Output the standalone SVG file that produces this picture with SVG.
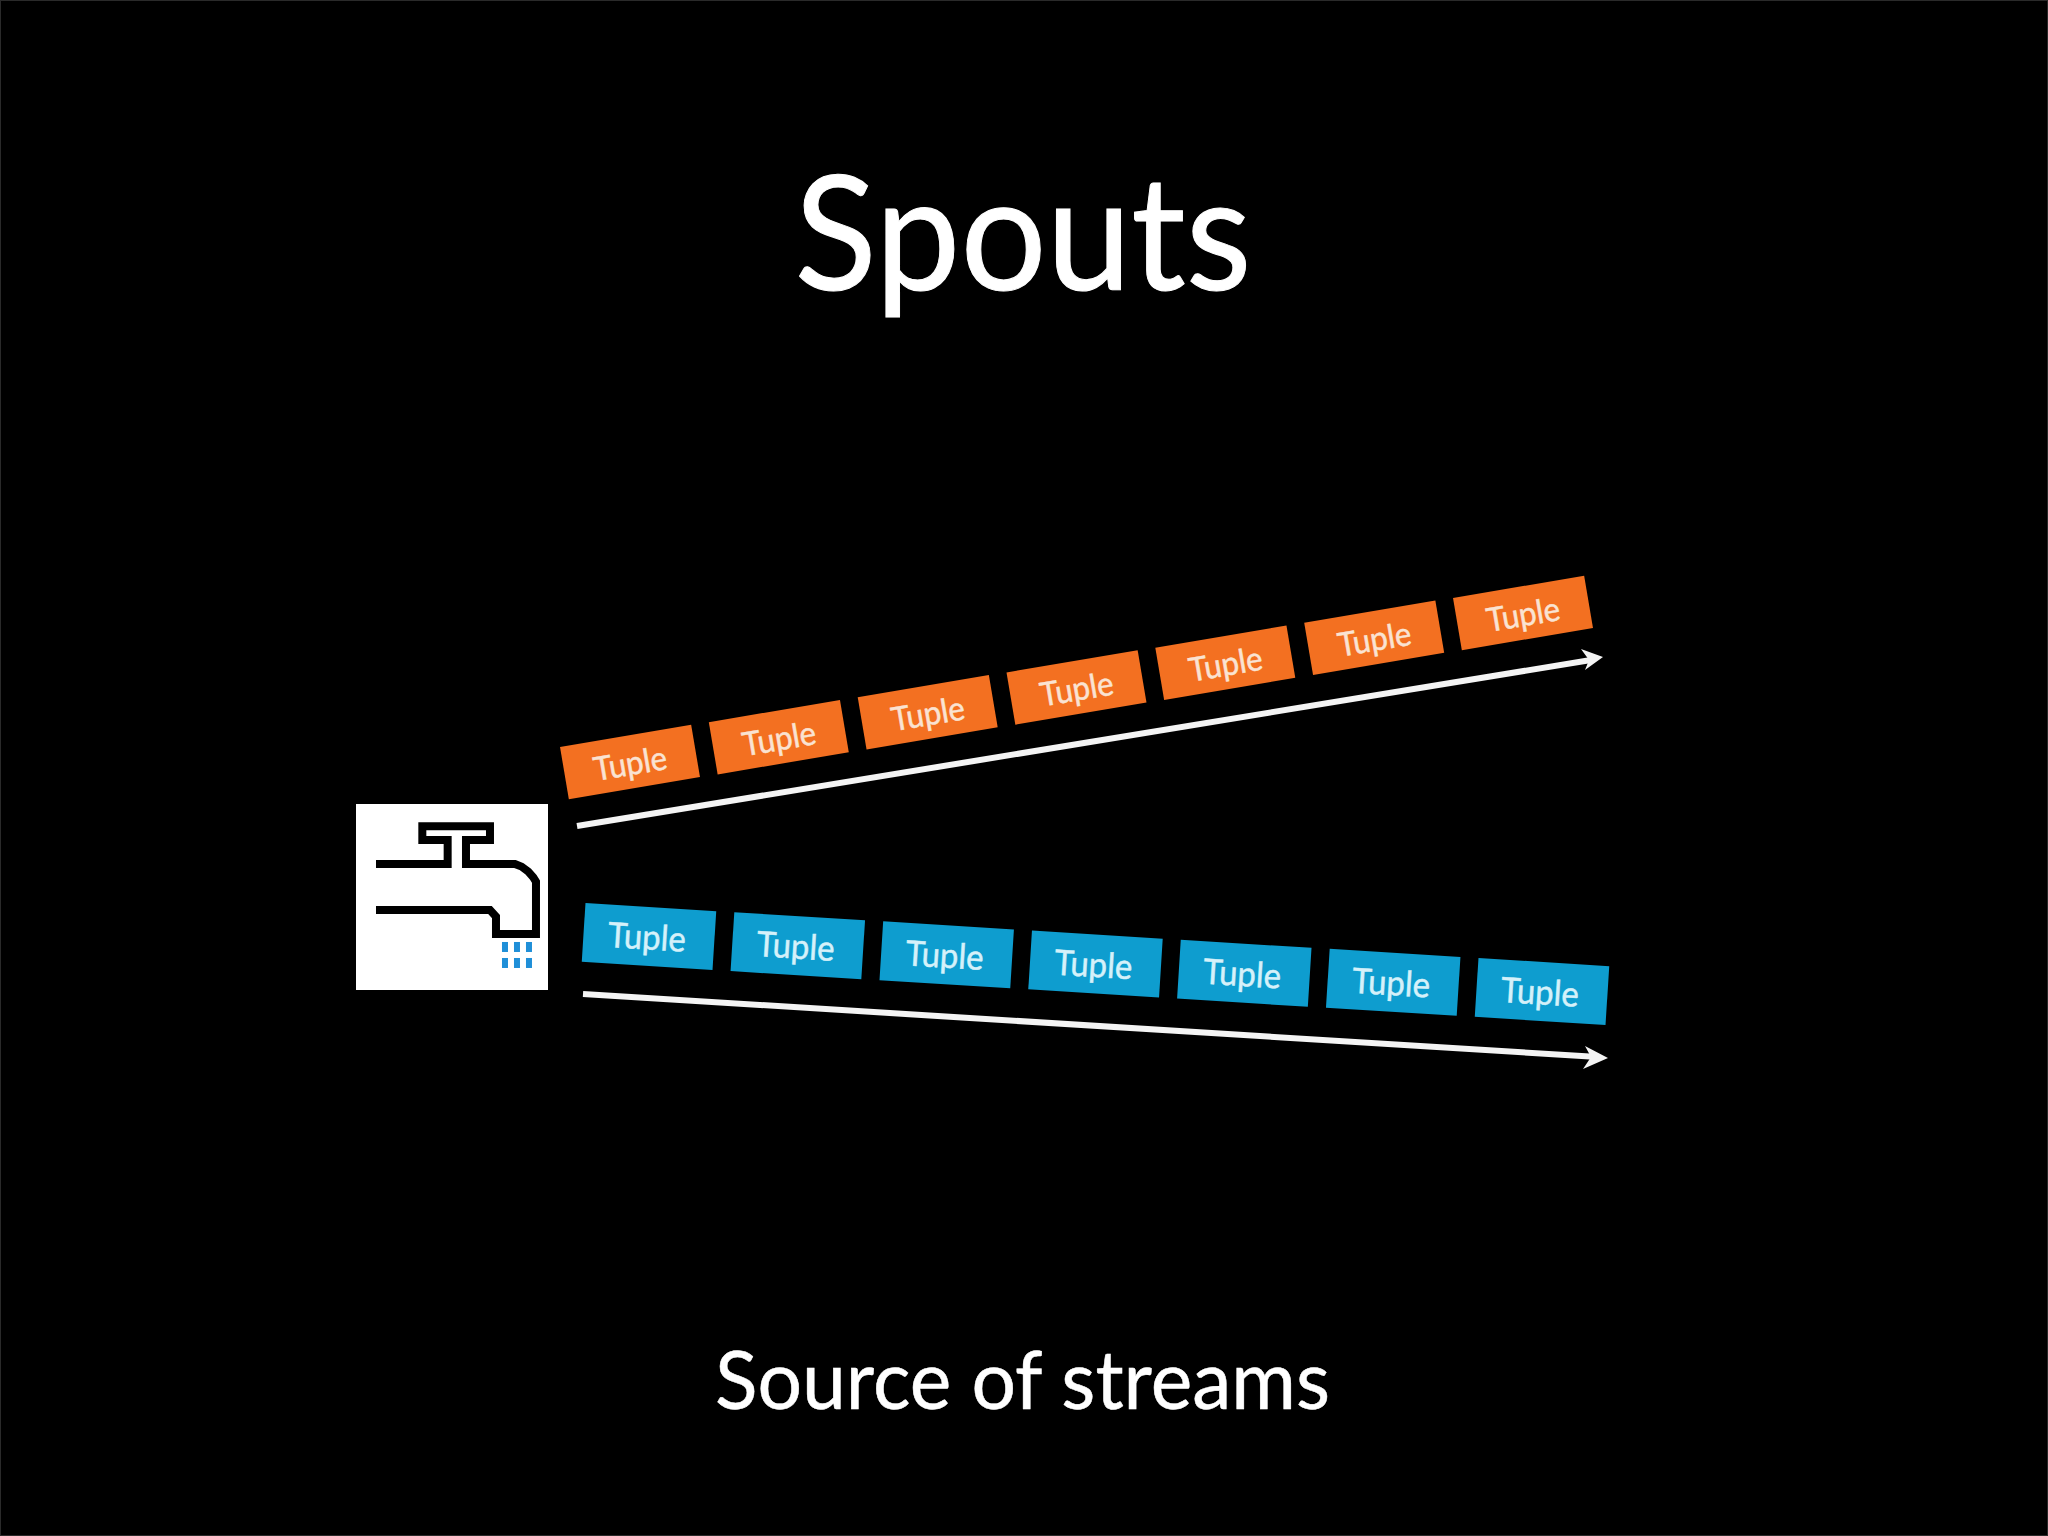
<svg xmlns="http://www.w3.org/2000/svg" width="2048" height="1536" viewBox="0 0 2048 1536">
<style>
text{font-family:"Lato","Open Sans",sans-serif;text-anchor:middle}
.title{fill:#fff}
.o rect{fill:#f37021}
.b rect{fill:#0e9dcf}
.o text{fill:#fae3d2;font-size:33px;stroke:#fae3d2;stroke-width:.5}
.b text{fill:#d5f1fa;font-size:35px;stroke:#d5f1fa;stroke-width:.5}
.ar{fill:none;stroke:#f4f4f4;stroke-width:6}
.hd{fill:#f4f4f4}
.drop{fill:#1f8fd8}
</style>
<rect width="2048" height="1536" fill="#000"/>
<rect x="0.5" y="0.5" width="2047" height="1535" fill="none" stroke="#2a2a2a"/>
<text class="title" x="1023" y="290" font-size="160" stroke="#fff" stroke-width="1" textLength="457" lengthAdjust="spacingAndGlyphs">Spouts</text>
<text class="title" x="1022.500" y="1409" font-size="82" stroke="#fff" stroke-width=".5" textLength="615" lengthAdjust="spacingAndGlyphs">Source of streams</text>
<g id="tap">
<rect x="356" y="804" width="192" height="186" fill="#fff"/>
<g transform="translate(340 780) scale(.3333)">
<path fill="none" stroke="#000" stroke-width="24" stroke-linejoin="miter" d="M108 252H323V180H247V139H450V180H378V252H525L545 260L565 275L580 292L588 305V462H468V410L450 390H108"/>
<g class="drop">
<rect x="486" y="486" width="18" height="30"/><rect x="522" y="486" width="18" height="30"/><rect x="558" y="486" width="18" height="30"/>
<rect x="486" y="534" width="18" height="30"/><rect x="522" y="534" width="18" height="30"/><rect x="558" y="534" width="18" height="30"/>
</g>
</g>
</g>
<g id="connectors">
<path class="ar" d="M577 826L1594 659.500"/>
<path class="hd" d="M1603 657L1581 649L1589 660L1585 670Z"/>
<path class="ar" d="M583 994L1598 1057"/>
<path class="hd" d="M1608 1058L1585 1046L1591 1057L1583 1069Z"/>
</g>
<g id="orange-tuples" class="o">
<g id="o1" transform="translate(630 762) rotate(-9.6)"><rect x="-66.500" y="-26.500" width="133" height="53"/><text y="13" textLength="74" lengthAdjust="spacingAndGlyphs">Tuple</text></g>
<g id="o2" transform="translate(778.800 737.200) rotate(-9.6)"><rect x="-66.500" y="-26.500" width="133" height="53"/><text y="13" textLength="74" lengthAdjust="spacingAndGlyphs">Tuple</text></g>
<g id="o3" transform="translate(927.700 712.300) rotate(-9.6)"><rect x="-66.500" y="-26.500" width="133" height="53"/><text y="13" textLength="74" lengthAdjust="spacingAndGlyphs">Tuple</text></g>
<g id="o4" transform="translate(1076.500 687.500) rotate(-9.6)"><rect x="-66.500" y="-26.500" width="133" height="53"/><text y="13" textLength="74" lengthAdjust="spacingAndGlyphs">Tuple</text></g>
<g id="o5" transform="translate(1225.300 662.700) rotate(-9.6)"><rect x="-66.500" y="-26.500" width="133" height="53"/><text y="13" textLength="74" lengthAdjust="spacingAndGlyphs">Tuple</text></g>
<g id="o6" transform="translate(1374.200 637.800) rotate(-9.6)"><rect x="-66.500" y="-26.500" width="133" height="53"/><text y="13" textLength="74" lengthAdjust="spacingAndGlyphs">Tuple</text></g>
<g id="o7" transform="translate(1523 613) rotate(-9.6)"><rect x="-66.500" y="-26.500" width="133" height="53"/><text y="13" textLength="74" lengthAdjust="spacingAndGlyphs">Tuple</text></g>
</g>
<g id="blue-tuples" class="b">
<g id="b1" transform="translate(649 936.500) rotate(3.6)"><rect x="-65.500" y="-29.500" width="131" height="59"/><text y="13" x="-2" textLength="78" lengthAdjust="spacingAndGlyphs">Tuple</text></g>
<g id="b2" transform="translate(797.800 945.700) rotate(3.6)"><rect x="-65.500" y="-29.500" width="131" height="59"/><text y="13" x="-2" textLength="78" lengthAdjust="spacingAndGlyphs">Tuple</text></g>
<g id="b3" transform="translate(946.700 954.800) rotate(3.6)"><rect x="-65.500" y="-29.500" width="131" height="59"/><text y="13" x="-2" textLength="78" lengthAdjust="spacingAndGlyphs">Tuple</text></g>
<g id="b4" transform="translate(1095.500 964) rotate(3.6)"><rect x="-65.500" y="-29.500" width="131" height="59"/><text y="13" x="-2" textLength="78" lengthAdjust="spacingAndGlyphs">Tuple</text></g>
<g id="b5" transform="translate(1244.300 973.200) rotate(3.6)"><rect x="-65.500" y="-29.500" width="131" height="59"/><text y="13" x="-2" textLength="78" lengthAdjust="spacingAndGlyphs">Tuple</text></g>
<g id="b6" transform="translate(1393.200 982.300) rotate(3.6)"><rect x="-65.500" y="-29.500" width="131" height="59"/><text y="13" x="-2" textLength="78" lengthAdjust="spacingAndGlyphs">Tuple</text></g>
<g id="b7" transform="translate(1542 991.500) rotate(3.6)"><rect x="-65.500" y="-29.500" width="131" height="59"/><text y="13" x="-2" textLength="78" lengthAdjust="spacingAndGlyphs">Tuple</text></g>
</g>
</svg>
